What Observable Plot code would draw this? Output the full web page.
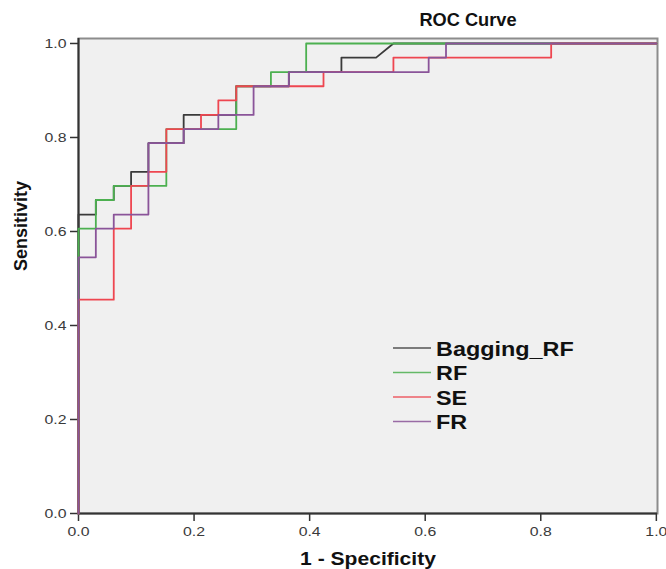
<!DOCTYPE html>
<html>
<head>
<meta charset="utf-8">
<script src="https://cdn.jsdelivr.net/npm/d3@7"></script>
<script src="https://cdn.jsdelivr.net/npm/@observablehq/plot@0.6"></script>
<style>
  html, body { margin: 0; padding: 0; background: #ffffff; }
  #chart { position: relative; width: 666px; height: 569px; }
</style>
</head>
<body>
<div id="chart"></div>
<script>
// ---- data (1 - specificity, sensitivity corner points) ----
const seriesNames = ["Bagging_RF", "RF", "SE", "FR"];
const seriesColors = ["#3a3a3a", "#4cb050", "#ee4650", "#8a5499"];

const baggingX = [0, 0, 0.030, 0.030, 0.061, 0.061, 0.091, 0.091, 0.121, 0.121, 0.182, 0.182, 0.273, 0.273, 0.364, 0.364, 0.455, 0.455, 0.515, 0.545, 1];
const baggingY = [0, 0.636, 0.636, 0.667, 0.667, 0.697, 0.697, 0.727, 0.727, 0.788, 0.788, 0.848, 0.848, 0.909, 0.909, 0.939, 0.939, 0.970, 0.970, 1, 1];

const rfX = [0, 0, 0.030, 0.030, 0.061, 0.061, 0.152, 0.152, 0.273, 0.273, 0.333, 0.333, 0.394, 0.394, 1];
const rfY = [0, 0.606, 0.606, 0.667, 0.667, 0.697, 0.697, 0.818, 0.818, 0.909, 0.909, 0.939, 0.939, 1, 1];

const seX = [0, 0, 0.061, 0.061, 0.091, 0.091, 0.121, 0.121, 0.152, 0.152, 0.212, 0.212, 0.242, 0.242, 0.273, 0.273, 0.424, 0.424, 0.545, 0.545, 0.818, 0.818, 1];
const seY = [0, 0.455, 0.455, 0.606, 0.606, 0.697, 0.697, 0.727, 0.727, 0.818, 0.818, 0.848, 0.848, 0.879, 0.879, 0.909, 0.909, 0.939, 0.939, 0.970, 0.970, 1, 1];

const frX = [0, 0, 0.030, 0.030, 0.061, 0.061, 0.121, 0.121, 0.182, 0.182, 0.242, 0.242, 0.303, 0.303, 0.364, 0.364, 0.606, 0.606, 0.636, 0.636, 1];
const frY = [0, 0.545, 0.545, 0.606, 0.606, 0.636, 0.636, 0.788, 0.788, 0.818, 0.818, 0.848, 0.848, 0.909, 0.909, 0.939, 0.939, 0.970, 0.970, 1, 1];

const tickValues = [0, 0.2, 0.4, 0.6, 0.8, 1.0];
const titleText = "ROC Curve";
const xLabel = "1 - Specificity";
const yLabel = "Sensitivity";

// ---- build tables ----
const toRows = (xs, ys) => xs.map((x, i) => ({x, y: ys[i]}));
const seriesRows = [toRows(baggingX, baggingY), toRows(rfX, rfY), toRows(seX, seY), toRows(frX, frY)];

const font = "'Liberation Sans', Arial, sans-serif";

const chart = Plot.plot({
  width: 666,
  height: 569,
  marginLeft: 78,
  marginRight: 9,
  marginTop: 38,
  marginBottom: 56,
  style: {fontFamily: font, background: "#ffffff", overflow: "visible"},
  x: {domain: [0, 1.002]},
  y: {domain: [0, 1.0106]},
  marks: [
    Plot.frame({fill: "#f0f0f0", stroke: "#8c8c8c", strokeWidth: 2}),
    Plot.ruleX([0], {stroke: "#333333", strokeWidth: 2}),
    Plot.ruleY([0], {stroke: "#333333", strokeWidth: 2}),
    Plot.axisY(tickValues, {tickSize: 8, tickPadding: 4, fontSize: 13.5, tickFormat: d3.format(".1f"), label: null, stroke: "#333333", fill: "#3a3a3a", strokeWidth: 1.5}),
    Plot.axisX(tickValues, {tickSize: 8, tickPadding: 5, fontSize: 13.5, tickFormat: d3.format(".1f"), label: null, stroke: "#333333", fill: "#3a3a3a", strokeWidth: 1.5}),
    ...seriesRows.map((rows, k) => Plot.line(rows, {x: "x", y: "y", stroke: seriesColors[k], strokeWidth: 1.8, curve: "linear"})),
    Plot.text([titleText], {frameAnchor: "top", dx: 100, dy: -18, fontSize: 17.5, fontWeight: "bold", fill: "#111", lineAnchor: "middle"}),
    Plot.text([xLabel], {frameAnchor: "bottom", dy: 46, fontSize: 18, fontWeight: "bold", fill: "#111", lineAnchor: "middle"}),
    Plot.text([yLabel], {frameAnchor: "left", dx: -57, dy: -5, rotate: -90, fontSize: 18, fontWeight: "bold", fill: "#111", lineAnchor: "middle"})
  ]
});

document.getElementById("chart").append(chart);

// ---- legend (drawn into the same svg) ----
const svg = d3.select(chart);
const legend = svg.append("g").attr("font-family", font).attr("text-anchor", "start");
seriesNames.forEach((name, k) => {
  const cy = 348 + k * 24.5;
  legend.append("line")
    .attr("x1", 393).attr("x2", 431).attr("y1", cy).attr("y2", cy)
    .attr("stroke", seriesColors[k]).attr("stroke-width", 1.6).attr("opacity", 0.85);
  legend.append("text")
    .attr("x", 436).attr("y", cy + 7.5)
    .attr("text-anchor", "start")
    .attr("font-size", 20).attr("font-weight", "bold").attr("fill", "#111")
    .text(name);
});

// ---- the reference is horizontally stretched: widen horizontal texts ----
chart.querySelectorAll("text").forEach(t => {
  if (t.textContent === yLabel) return;
  const len = t.getComputedTextLength();
  if (len > 0) {
    const factor = t.textContent === titleText ? 1.04 : 1.17;
    t.setAttribute("textLength", (len * factor).toFixed(1));
    t.setAttribute("lengthAdjust", "spacingAndGlyphs");
  }
});
</script>
</body>
</html>
